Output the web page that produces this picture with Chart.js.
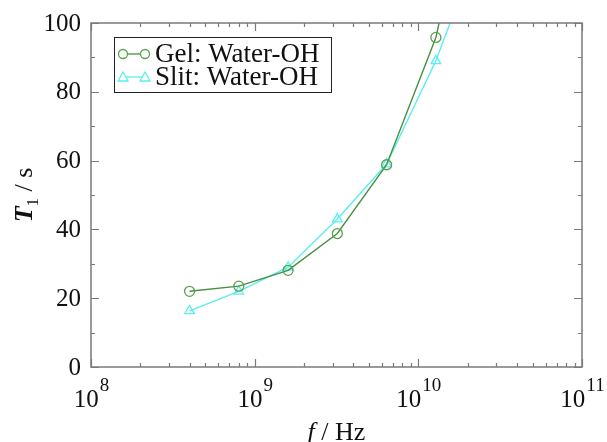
<!DOCTYPE html>
<html>
<head>
<meta charset="utf-8">
<script src="https://cdn.jsdelivr.net/npm/chart.js@4"></script>
<style>
  html, body { margin: 0; padding: 0; background: #fff; }
  #wrap { width: 607px; height: 442px; }
</style>
</head>
<body>
<div id="wrap"><canvas id="t1Chart" width="607" height="442"></canvas></div>
<script>
// frequencies (Hz)
const freq = [4e8, 8e8, 1.6e9, 3.2e9, 6.4e9, 1.28e10, 2.56e10];
// T1 values (s)
const gelT1 = [22, 23.5, 28.1, 38.8, 58.8, 95.8, 160];
const slitT1 = [16.3, 22, 29, 43, 59, 89, 127];

const yMajor = [0, 20, 40, 60, 80, 100];
const yMinor = [10, 30, 50, 70, 90];
const xDecades = [8, 9, 10, 11];

const seriesNames = ["Gel: Water-OH", "Slit: Water-OH"];
const GREEN_LINE = "#4a8f3f";
const GREEN = "#5aa050";
const CYAN = "#5aeeee";
const AXIS = "#7a7a7a";
const SERIF = "'Liberation Serif', 'Times New Roman', serif";

function toPoints(ys) {
  return freq.map((f, i) => ({ x: f, y: ys[i] }));
}

// frame, inward ticks, tick labels, axis titles and legend
const decorPlugin = {
  id: "decor",
  afterDraw(chart) {
    const { ctx, chartArea: a } = chart;
    const xs = chart.scales.x;
    const ys = chart.scales.y;

    ctx.save();
    ctx.strokeStyle = AXIS;
    ctx.lineWidth = 1.5;
    ctx.strokeRect(a.left, a.top, a.right - a.left, a.bottom - a.top);

    ctx.lineWidth = 1.2;
    function vTick(v, len) {
      const y = Math.round(ys.getPixelForValue(v)) + 0.5;
      ctx.beginPath();
      ctx.moveTo(a.left, y); ctx.lineTo(a.left + len, y);
      ctx.moveTo(a.right, y); ctx.lineTo(a.right - len, y);
      ctx.stroke();
    }
    function hTick(v, len) {
      const x = Math.round(xs.getPixelForValue(v)) + 0.5;
      ctx.beginPath();
      ctx.moveTo(x, a.bottom); ctx.lineTo(x, a.bottom - len);
      ctx.moveTo(x, a.top); ctx.lineTo(x, a.top + len);
      ctx.stroke();
    }
    yMajor.forEach(v => vTick(v, 8));
    yMinor.forEach(v => vTick(v, 4));
    xDecades.forEach((d, i) => {
      hTick(Math.pow(10, d), 8);
      if (i < xDecades.length - 1) {
        for (let m = 2; m <= 9; m++) hTick(m * Math.pow(10, d), 4);
      }
    });

    // y tick labels
    ctx.fillStyle = "#111";
    ctx.font = "25px " + SERIF;
    ctx.textAlign = "right";
    ctx.textBaseline = "middle";
    yMajor.forEach(v => {
      ctx.fillText(String(v), a.left - 10, ys.getPixelForValue(v) + 1);
    });

    // x tick labels: 10^n
    xDecades.forEach(d => {
      const x = xs.getPixelForValue(Math.pow(10, d));
      ctx.font = "25px " + SERIF;
      const baseW = ctx.measureText("10").width;
      ctx.font = "19px " + SERIF;
      const expW = ctx.measureText(String(d)).width;
      const start = x - (baseW + expW) / 2;
      ctx.textAlign = "left";
      ctx.textBaseline = "alphabetic";
      ctx.font = "25px " + SERIF;
      ctx.fillText("10", start, a.bottom + 40);
      ctx.font = "19px " + SERIF;
      ctx.fillText(String(d), start + baseW + 1, a.bottom + 24);
    });

    // x title: f / Hz
    const cx = (a.left + a.right) / 2;
    ctx.font = "italic 26px " + SERIF;
    const fW = ctx.measureText("f").width;
    ctx.font = "26px " + SERIF;
    const restW = ctx.measureText(" / Hz").width;
    const sx = cx - (fW + restW) / 2;
    ctx.textAlign = "left";
    ctx.font = "italic 26px " + SERIF;
    ctx.fillText("f", sx, a.bottom + 73);
    ctx.font = "26px " + SERIF;
    ctx.fillText(" / Hz", sx + fW, a.bottom + 73);

    // y title: T1 / s
    ctx.save();
    ctx.translate(32, (a.top + a.bottom) / 2);
    ctx.rotate(-Math.PI / 2);
    ctx.font = "bold italic 26px " + SERIF;
    const tW = ctx.measureText("T").width;
    ctx.font = "17px " + SERIF;
    const oneW = ctx.measureText("1").width;
    ctx.font = "26px " + SERIF;
    const sW = ctx.measureText(" / s").width;
    const ty = -(tW + oneW + sW) / 2;
    ctx.font = "bold italic 26px " + SERIF;
    ctx.fillText("T", ty, 0);
    ctx.font = "17px " + SERIF;
    ctx.fillText("1", ty + tW, 6);
    ctx.font = "26px " + SERIF;
    ctx.fillText(" / s", ty + tW + oneW, 0);
    ctx.restore();

    // legend
    const lx = 114, ly = 37, lw = 217, lh = 55;
    ctx.fillStyle = "#fff";
    ctx.fillRect(lx, ly, lw, lh);
    ctx.strokeStyle = "#222";
    ctx.lineWidth = 1;
    ctx.strokeRect(lx + 0.5, ly + 0.5, lw, lh);
    const rows = [
      { name: seriesNames[0], line: GREEN_LINE, color: GREEN, style: "circle", y: ly + 17 },
      { name: seriesNames[1], line: CYAN, color: CYAN, style: "triangle", y: ly + 40 }
    ];
    rows.forEach(r => {
      ctx.strokeStyle = r.line;
      ctx.lineWidth = 1.3;
      ctx.beginPath();
      ctx.moveTo(lx + 9, r.y); ctx.lineTo(lx + 31, r.y);
      ctx.stroke();
      ctx.strokeStyle = r.color;
      [lx + 9, lx + 31].forEach(px => {
        ctx.beginPath();
        if (r.style === "circle") {
          ctx.arc(px, r.y, 4.5, 0, Math.PI * 2);
        } else {
          ctx.moveTo(px, r.y - 5);
          ctx.lineTo(px + 5, r.y + 4);
          ctx.lineTo(px - 5, r.y + 4);
          ctx.closePath();
        }
        ctx.fillStyle = "#fff";
        ctx.fill();
        ctx.stroke();
      });
      ctx.fillStyle = "#111";
      ctx.font = "27px " + SERIF;
      ctx.textAlign = "left";
      ctx.textBaseline = "middle";
      ctx.fillText(r.name, lx + 41, r.y + 1);
    });
    ctx.restore();
  }
};

new Chart(document.getElementById("t1Chart"), {
  type: "line",
  data: {
    datasets: [
      {
        label: seriesNames[0],
        data: toPoints(gelT1),
        borderColor: GREEN_LINE,
        borderWidth: 1.4,
        pointStyle: "circle",
        pointRadius: 5,
        pointBorderWidth: 1.3,
        pointBorderColor: GREEN,
        pointBackgroundColor: "rgba(0,0,0,0)",
        tension: 0
      },
      {
        label: seriesNames[1],
        data: toPoints(slitT1),
        borderColor: CYAN,
        borderWidth: 1.4,
        pointStyle: "triangle",
        pointRadius: 5.5,
        pointBorderWidth: 1.3,
        pointBorderColor: CYAN,
        pointBackgroundColor: "rgba(0,0,0,0)",
        tension: 0
      }
    ]
  },
  options: {
    responsive: false,
    animation: false,
    layout: { padding: { left: 91, right: 25, top: 23, bottom: 75 } },
    scales: {
      x: { type: "logarithmic", min: 1e8, max: 1e11, display: false },
      y: { type: "linear", min: 0, max: 100, display: false }
    },
    plugins: {
      legend: { display: false },
      tooltip: { enabled: false }
    }
  },
  plugins: [decorPlugin]
});
</script>
</body>
</html>
